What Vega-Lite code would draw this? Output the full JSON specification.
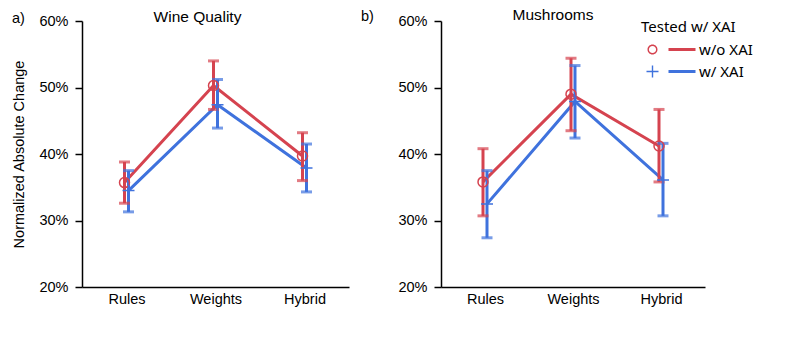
{
  "$schema": "https://vega.github.io/schema/vega-lite/v6.json",
  "padding": {"left": 11, "top": 7, "right": 5, "bottom": 5},
  "config": {
    "font": "Liberation Sans",
    "view": {"stroke": null},
    "axis": {"labelFontSize": 14.5, "labelColor": "black", "domainColor": "black", "domainWidth": 1.5, "tickColor": "black", "tickWidth": 1.5, "grid": false, "titleFontWeight": "normal", "titleFontSize": 14.5, "titleColor": "black"},
    "title": {"fontSize": 15.5, "fontWeight": "normal", "color": "black"},
    "concat": {"spacing": 11}
  },
  "data": {"values": [
    {"dataset": "Wine Quality", "method": "Rules", "group": "w/o XAI", "mean": 35.7, "lo": 32.6, "hi": 38.8},
    {"dataset": "Wine Quality", "method": "Weights", "group": "w/o XAI", "mean": 50.3, "lo": 46.7, "hi": 54.0},
    {"dataset": "Wine Quality", "method": "Hybrid", "group": "w/o XAI", "mean": 39.7, "lo": 36.0, "hi": 43.2},
    {"dataset": "Wine Quality", "method": "Rules", "group": "w/ XAI", "mean": 34.5, "lo": 31.3, "hi": 37.5},
    {"dataset": "Wine Quality", "method": "Weights", "group": "w/ XAI", "mean": 47.4, "lo": 43.9, "hi": 51.2},
    {"dataset": "Wine Quality", "method": "Hybrid", "group": "w/ XAI", "mean": 37.9, "lo": 34.3, "hi": 41.5},
    {"dataset": "Mushrooms", "method": "Rules", "group": "w/o XAI", "mean": 35.8, "lo": 30.7, "hi": 40.8},
    {"dataset": "Mushrooms", "method": "Weights", "group": "w/o XAI", "mean": 49.0, "lo": 43.5, "hi": 54.4},
    {"dataset": "Mushrooms", "method": "Hybrid", "group": "w/o XAI", "mean": 41.2, "lo": 35.8, "hi": 46.7},
    {"dataset": "Mushrooms", "method": "Rules", "group": "w/ XAI", "mean": 32.5, "lo": 27.4, "hi": 37.5},
    {"dataset": "Mushrooms", "method": "Weights", "group": "w/ XAI", "mean": 47.9, "lo": 42.4, "hi": 53.3},
    {"dataset": "Mushrooms", "method": "Hybrid", "group": "w/ XAI", "mean": 36.1, "lo": 30.7, "hi": 41.6}
  ]},
  "hconcat": [
    {
      "title": {"text": "a)", "anchor": "start", "frame": "bounds", "offset": -15, "dy": 2, "fontSize": 14.5},
      "vconcat": [
        {
          "title": {"text": "Wine Quality", "offset": -8, "dy": 4, "dx": -18},
          "width": 267, "height": 266,
          "transform": [{"filter": "datum.dataset === 'Wine Quality'"}],
          "encoding": {
            "x": {"field": "method", "type": "nominal", "sort": ["Rules", "Weights", "Hybrid"], "scale": {"type": "point", "padding": 0.5}, "axis": {"title": null, "labelAngle": 0, "ticks": false, "labelPadding": 5}},
            "xOffset": {"field": "group", "type": "nominal", "scale": {"domain": ["w/o XAI", "w/ XAI"], "range": [-4, 4]}},
            "color": {"field": "group", "type": "nominal", "scale": {"domain": ["w/o XAI", "w/ XAI"], "range": ["#d5434f", "#3f72dd"]}}
          },
          "layer": [
            {"mark": {"type": "line", "strokeWidth": 3}, "encoding": {"y": {"field": "mean", "type": "quantitative", "scale": {"domain": [20, 60]}, "axis": {"values": [20, 30, 40, 50, 60], "labelExpr": "datum.value + '%'", "tickSize": 7, "labelPadding": 7, "title": "Normalized Absolute Change", "titlePadding": 12}},
              "color": {"field": "group", "type": "nominal", "scale": {"domain": ["w/o XAI", "w/ XAI"], "range": ["#d5434f", "#3f72dd"]},
                "legend": {"title": "Tested w/ XAI", "orient": "none", "legendX": 559, "legendY": -1, "titleFont": "Noto Sans", "titleFontSize": 15, "titleFontWeight": "normal", "titleColor": "black", "labelFont": "Noto Sans", "labelFontSize": 15, "labelColor": "black", "symbolSize": 100, "symbolOffset": 4, "labelOffset": 39, "rowPadding": 6, "titlePadding": 7,
                  "encode": {"symbols": {"update": {
                    "shape": {"signal": "datum.value === 'w/ XAI' ? 'M-1.2,-0.14H1.2V0.14H-1.2ZM-0.14,-1.2H0.14V1.2H-0.14ZM3.2,-0.3H8.6V0.3H3.2Z' : 'M1,0A1,1,0,1,1,-1,0A1,1,0,1,1,1,0ZM0.72,0A0.72,0.72,0,1,0,-0.72,0A0.72,0.72,0,1,0,0.72,0ZM3.2,-0.3H8.6V0.3H3.2Z'"},
                    "fill": {"signal": "datum.value === 'w/ XAI' ? '#3f72dd' : '#d5434f'"},
                    "stroke": {"value": "transparent"},
                    "strokeWidth": {"value": 0},
                    "opacity": {"value": 1},
                    "fillOpacity": {"value": 1}
                  }}}}}}},
            {"mark": {"type": "rule", "strokeWidth": 3}, "encoding": {"y": {"field": "lo", "type": "quantitative"}, "y2": {"field": "hi"}}},
            {"mark": {"type": "tick", "thickness": 3, "size": 11}, "encoding": {"y": {"field": "lo", "type": "quantitative"}}},
            {"mark": {"type": "tick", "thickness": 3, "size": 11}, "encoding": {"y": {"field": "hi", "type": "quantitative"}}},
            {"mark": {"type": "point", "filled": false, "strokeWidth": 1.5, "opacity": 1}, "encoding": {"y": {"field": "mean", "type": "quantitative"},
              "shape": {"condition": {"test": "datum.group === 'w/ XAI'", "value": "M-1,0H1M0,-1V1"}, "value": "circle"},
              "size": {"condition": {"test": "datum.group === 'w/ XAI'", "value": 144}, "value": 100}}}
          ]
        }
      ]
    },
    {
      "title": {"text": "b)", "anchor": "start", "frame": "bounds", "offset": -15, "dy": 2, "dx": -37, "fontSize": 14.5},
      "vconcat": [
        {
          "title": {"text": "Mushrooms", "offset": -8, "dy": 2, "dx": -20},
          "width": 264, "height": 266,
          "transform": [{"filter": "datum.dataset === 'Mushrooms'"}],
          "encoding": {
            "x": {"field": "method", "type": "nominal", "sort": ["Rules", "Weights", "Hybrid"], "scale": {"type": "point", "padding": 0.5}, "axis": {"title": null, "labelAngle": 0, "ticks": false, "labelPadding": 5}},
            "xOffset": {"field": "group", "type": "nominal", "scale": {"domain": ["w/o XAI", "w/ XAI"], "range": [-4, 4]}},
            "color": {"field": "group", "type": "nominal", "scale": {"domain": ["w/o XAI", "w/ XAI"], "range": ["#d5434f", "#3f72dd"]}}
          },
          "layer": [
            {"mark": {"type": "line", "strokeWidth": 3}, "encoding": {"y": {"field": "mean", "type": "quantitative", "scale": {"domain": [20, 60]}, "axis": {"values": [20, 30, 40, 50, 60], "labelExpr": "datum.value + '%'", "tickSize": 7, "labelPadding": 7, "title": null}}}},
            {"mark": {"type": "rule", "strokeWidth": 3}, "encoding": {"y": {"field": "lo", "type": "quantitative"}, "y2": {"field": "hi"}}},
            {"mark": {"type": "tick", "thickness": 3, "size": 11}, "encoding": {"y": {"field": "lo", "type": "quantitative"}}},
            {"mark": {"type": "tick", "thickness": 3, "size": 11}, "encoding": {"y": {"field": "hi", "type": "quantitative"}}},
            {"mark": {"type": "point", "filled": false, "strokeWidth": 1.5, "opacity": 1}, "encoding": {"y": {"field": "mean", "type": "quantitative"},
              "shape": {"condition": {"test": "datum.group === 'w/ XAI'", "value": "M-1,0H1M0,-1V1"}, "value": "circle"},
              "size": {"condition": {"test": "datum.group === 'w/ XAI'", "value": 144}, "value": 100}}}
          ]
        }
      ]
    }
  ]
}
